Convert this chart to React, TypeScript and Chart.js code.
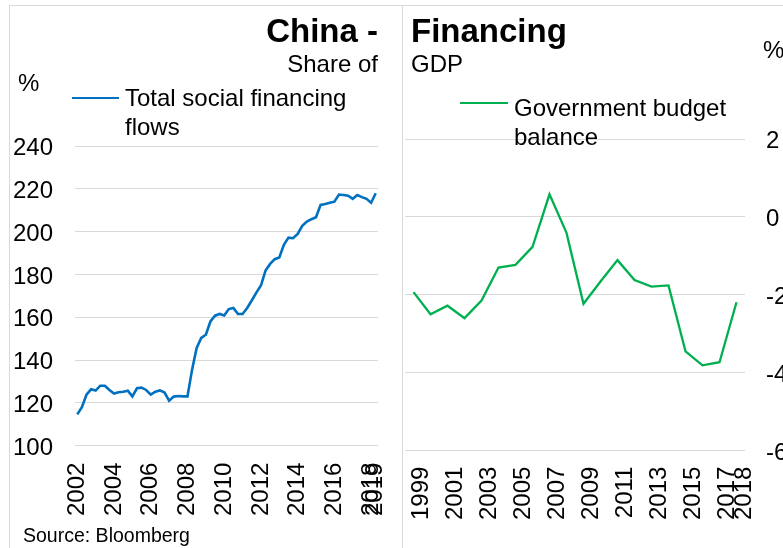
import React, { useEffect, useRef } from 'react';
import { Chart, registerables } from 'chart.js';

Chart.register(...registerables);

const FONT = '"Liberation Sans", Arial, Helvetica, sans-serif';
const BLUE = '#0070C0';
const GREEN = '#00B050';
const GRID = '#d9d9d9';

// ---- Left panel: Total social financing flows (% of GDP), quarterly 2002 Q4 - 2019 Q1
const tsfFirstYear = 2002;
const tsfLastYear = 2019;
const tsfQuarters: string[] = [];
for (let y = tsfFirstYear; y <= tsfLastYear; y++) {
  for (let q = 1; q <= 4; q++) {
    if ((y === tsfFirstYear && q < 4) || (y === tsfLastYear && q > 1)) continue;
    tsfQuarters.push(`${y} Q${q}`);
  }
}
const tsfShareOfGdp = [
  114.6, 118.0, 123.8, 126.3, 125.7, 128.0, 128.0, 126.0, 124.3, 124.9,
  125.2, 125.7, 123.0, 126.8, 127.1, 126.0, 123.8, 125.2, 125.8, 124.8,
  121.0, 122.9, 123.2, 123.0, 123.0, 135.5, 145.6, 150.3, 151.8, 158.0,
  160.7, 161.5, 160.8, 163.8, 164.3, 161.5, 161.5, 164.3, 167.8, 171.5,
  174.8, 181.8, 184.9, 187.1, 187.9, 193.8, 197.2, 196.9, 198.9, 202.7,
  204.7, 205.8, 206.7, 212.5, 212.9, 213.5, 214.0, 217.3, 217.1, 216.8,
  215.3, 217.1, 216.1, 215.3, 213.5, 217.9,
];
const tsfAxis = { min: 100, max: 240, step: 20 };

// ---- Right panel: Government budget balance (% of GDP), annual
const budgetYears = [
  '1999', '2000', '2001', '2002', '2003', '2004', '2005', '2006', '2007', '2008',
  '2009', '2010', '2011', '2012', '2013', '2014', '2015', '2016', '2017', '2018',
];
const budgetBalance = [
  -1.93, -2.5, -2.28, -2.6, -2.15, -1.3, -1.23, -0.77, 0.58, -0.41,
  -2.23, -1.66, -1.11, -1.62, -1.79, -1.76, -3.45, -3.81, -3.73, -2.19,
];
const budgetAxis = { min: -6, max: 2, step: 2 };

const tickFont = { family: FONT, size: 24, lineHeight: 1 };

function leftConfig(): any {
  const last = tsfQuarters.length - 1;
  return {
    type: 'line',
    data: {
      labels: tsfQuarters,
      datasets: [
        {
          label: 'Total social financing flows',
          data: tsfShareOfGdp,
          borderColor: BLUE,
          backgroundColor: BLUE,
          borderWidth: 2.6,
          pointRadius: 0,
          pointHoverRadius: 0,
          tension: 0,
          fill: false,
        },
      ],
    },
    options: {
      responsive: false,
      animation: false,
      devicePixelRatio: 1,
      events: [],
      layout: { padding: { left: 0, top: 140, right: 22, bottom: 32 } },
      plugins: { legend: { display: false }, tooltip: { enabled: false }, title: { display: false } },
      scales: {
        x: {
          type: 'category',
          offset: true,
          border: { display: false },
          grid: { drawOnChartArea: false, drawTicks: true, tickLength: 17, tickColor: 'rgba(0,0,0,0)' },
          ticks: {
            autoSkip: false,
            maxRotation: 90,
            minRotation: 90,
            padding: 0,
            color: '#000',
            font: tickFont,
            callback: (_v: any, i: number) =>
              i % 8 === 0 || i === last ? tsfQuarters[i].slice(0, 4) : '',
          },
        },
        y: {
          min: tsfAxis.min,
          max: tsfAxis.max,
          border: { display: false },
          grid: { color: GRID, lineWidth: 1, drawTicks: false },
          ticks: { stepSize: tsfAxis.step, padding: 22, color: '#000', font: tickFont, labelOffset: 2.5 },
          afterFit: (s: any) => {
            s.width = 65;
          },
        },
      },
    },
  };
}

function rightConfig(): any {
  const last = budgetYears.length - 1;
  return {
    type: 'line',
    data: {
      labels: budgetYears,
      datasets: [
        {
          label: 'Government budget balance',
          data: budgetBalance,
          borderColor: GREEN,
          backgroundColor: GREEN,
          borderWidth: 2.3,
          pointRadius: 0,
          pointHoverRadius: 0,
          tension: 0,
          fill: false,
        },
      ],
    },
    options: {
      responsive: false,
      animation: false,
      devicePixelRatio: 1,
      events: [],
      layout: { padding: { left: 1, top: 133, right: 0, bottom: 28 } },
      plugins: { legend: { display: false }, tooltip: { enabled: false }, title: { display: false } },
      scales: {
        x: {
          type: 'category',
          offset: true,
          border: { display: false },
          grid: { drawOnChartArea: false, drawTicks: true, tickLength: 16, tickColor: 'rgba(0,0,0,0)' },
          ticks: {
            autoSkip: false,
            maxRotation: 90,
            minRotation: 90,
            padding: 0,
            labelOffset: 8,
            color: '#000',
            font: tickFont,
            callback: (_v: any, i: number) => (i % 2 === 0 || i === last ? budgetYears[i] : ''),
          },
        },
        y: {
          position: 'right',
          min: budgetAxis.min,
          max: budgetAxis.max,
          border: { display: false },
          grid: { color: GRID, lineWidth: 1, drawTicks: false },
          ticks: { stepSize: budgetAxis.step, padding: 21, color: '#000', font: tickFont, labelOffset: 2.5 },
          afterFit: (s: any) => {
            s.width = 49;
          },
        },
      },
    },
  };
}

function ChartCanvas(props: { left: number; top: number; width: number; height: number; makeConfig: () => any }) {
  const ref = useRef<HTMLCanvasElement | null>(null);
  useEffect(() => {
    if (!ref.current) return;
    const chart = new Chart(ref.current, props.makeConfig());
    return () => chart.destroy();
  }, []);
  return (
    <canvas
      ref={ref}
      width={props.width}
      height={props.height}
      style={{ position: 'absolute', left: props.left, top: props.top, width: props.width, height: props.height }}
    />
  );
}

function Txt(props: { style: React.CSSProperties; children: React.ReactNode }) {
  return <div style={{ position: 'absolute', whiteSpace: 'nowrap', ...props.style }}>{props.children}</div>;
}

export default function App() {
  return (
    <div
      style={{
        position: 'fixed',
        left: 0,
        top: 0,
        width: 783,
        height: 548,
        overflow: 'hidden',
        background: '#fff',
        fontFamily: FONT,
        color: '#000',
      }}
    >
      {/* panel frames */}
      <div style={{ position: 'absolute', left: 9, top: 5, width: 420, height: 600, borderLeft: `1px solid ${GRID}`, borderTop: `1px solid ${GRID}` }} />
      <div style={{ position: 'absolute', left: 402, top: 5, width: 420, height: 600, borderLeft: `1px solid ${GRID}`, borderTop: `1px solid ${GRID}` }} />

      <ChartCanvas left={10} top={6} width={390} height={542} makeConfig={leftConfig} />
      <ChartCanvas left={404} top={6} width={390} height={542} makeConfig={rightConfig} />

      {/* titles */}
      <Txt style={{ right: 405, top: 14, fontSize: 33, fontWeight: 'bold', lineHeight: '33px' }}>China -</Txt>
      <Txt style={{ right: 405, top: 51.5, fontSize: 24, lineHeight: '24px' }}>Share of</Txt>
      <Txt style={{ left: 411, top: 14, fontSize: 33, fontWeight: 'bold', lineHeight: '33px' }}>Financing</Txt>
      <Txt style={{ left: 411, top: 51.5, fontSize: 24, lineHeight: '24px' }}>GDP</Txt>

      {/* axis unit labels */}
      <Txt style={{ left: 18, top: 70.5, fontSize: 24, lineHeight: '24px' }}>%</Txt>
      <Txt style={{ left: 763, top: 38, fontSize: 24, lineHeight: '24px' }}>%</Txt>

      {/* legends */}
      <div style={{ position: 'absolute', left: 72, top: 96.7, width: 47, height: 2.6, background: BLUE }} />
      <Txt style={{ left: 125, top: 82.7, fontSize: 24, lineHeight: '29px', whiteSpace: 'normal', width: 250 }}>
        Total social financing
        <br />
        flows
      </Txt>
      <div style={{ position: 'absolute', left: 460, top: 102.2, width: 48, height: 2.3, background: GREEN }} />
      <Txt style={{ left: 514, top: 92.7, fontSize: 24, lineHeight: '29px', whiteSpace: 'normal', width: 250 }}>
        Government budget
        <br />
        balance
      </Txt>

      <Txt style={{ left: 23, top: 525, fontSize: 19.5, lineHeight: '20px' }}>Source: Bloomberg</Txt>
    </div>
  );
}
